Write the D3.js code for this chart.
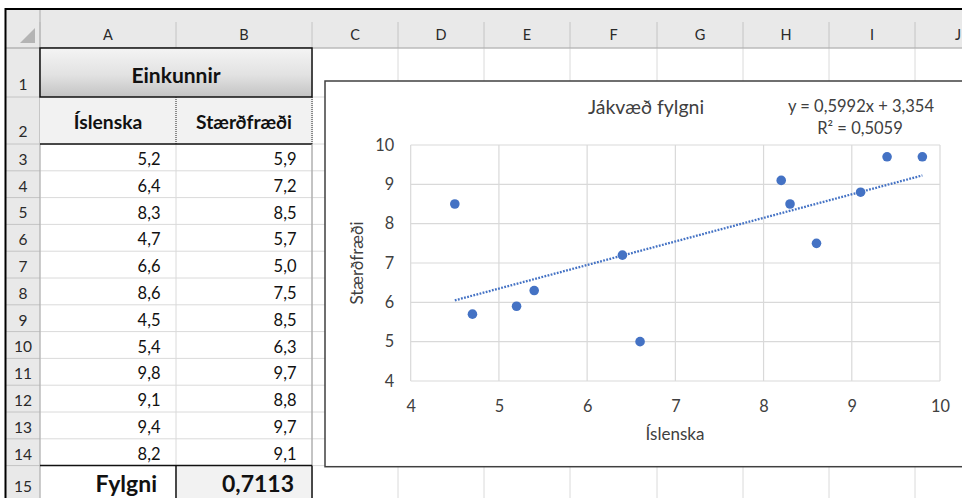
<!DOCTYPE html>
<html><head><meta charset="utf-8">
<script src="https://cdn.jsdelivr.net/npm/d3@7"></script>
<style>body{margin:0;background:#fff}svg{display:block}text{font-family:Lato,'Open Sans',sans-serif}</style>
</head><body><svg id="c" width="962" height="498"></svg>
<script>
// ---- data ----
const columnLetters = ["A","B","C","D","E","F","G","H","I","J"];
const rowNumbers = [1,2,3,4,5,6,7,8,9,10,11,12,13,14,15];
const tableTitle = "Einkunnir";
const seriesNames = ["Íslenska","Stærðfræði"];
const islenska = [5.2,6.4,8.3,4.7,6.6,8.6,4.5,5.4,9.8,9.1,9.4,8.2];
const staerdfraedi = [5.9,7.2,8.5,5.7,5.0,7.5,8.5,6.3,9.7,8.8,9.7,9.1];
const correlationLabel = "Fylgni";
const correlationValue = 0.7113;
const chartTitle = "Jákvæð fylgni";
const trendSlope = 0.5992, trendIntercept = 3.354, trendR2 = 0.5059;
const xTicks = [4,5,6,7,8,9,10];
const yTicks = [4,5,6,7,8,9,10];
const xTitle = "Íslenska", yTitle = "Stærðfræði";

const comma = (v,d) => v.toFixed(d).replace(".", ",");

// ---- layout ----
const svg = d3.select("#c");
const colEdges = [40,176,312,398,484,570,657,743,829,915,1001];
const rowEdges = [48,97,144];
for (let i = 3; i <= 14; i++) rowEdges.push(144 + (i-2)*26.8);
rowEdges.push(525);

const defs = svg.append("defs");
const g1 = defs.append("linearGradient").attr("id","hdr").attr("x1",0).attr("x2",0).attr("y1",0).attr("y2",1);
g1.append("stop").attr("offset","0%").attr("stop-color","#F4F4F4");
g1.append("stop").attr("offset","55%").attr("stop-color","#E2E2E2");
g1.append("stop").attr("offset","100%").attr("stop-color","#C3C3C3");

svg.append("rect").attr("width",962).attr("height",498).attr("fill","#fff");

// headers
svg.append("rect").attr("x",6).attr("y",10).attr("width",956).attr("height",38).attr("fill","#E9E9E9");
svg.append("rect").attr("x",6).attr("y",48).attr("width",34).attr("height",450).attr("fill","#E9E9E9");
svg.append("path").attr("d","M35,28L35,43L20,43Z").attr("fill","#B4B4B4");

// cell gridlines
svg.selectAll(".vg").data(colEdges).join("line")
  .attr("x1",d=>d).attr("x2",d=>d).attr("y1",48).attr("y2",498).attr("stroke","#DADADA");
svg.selectAll(".hg").data(rowEdges).join("line")
  .attr("x1",40).attr("x2",962).attr("y1",d=>d).attr("y2",d=>d).attr("stroke","#DADADA");

// header separators
svg.selectAll(".hs").data(colEdges).join("line")
  .attr("x1",d=>d).attr("x2",d=>d).attr("y1",22).attr("y2",48).attr("stroke","#C4C4C4");
svg.selectAll(".rs").data(rowEdges).join("line")
  .attr("x1",6).attr("x2",40).attr("y1",d=>d).attr("y2",d=>d).attr("stroke","#C4C4C4");
svg.append("line").attr("x1",6).attr("x2",962).attr("y1",48).attr("y2",48).attr("stroke","#ABABAB");
svg.append("line").attr("x1",40).attr("x2",40).attr("y1",10).attr("y2",498).attr("stroke","#ABABAB");

// column letters
svg.selectAll(".cl").data(columnLetters).join("text")
  .attr("x",(d,i)=>(colEdges[i]+colEdges[i+1])/2).attr("y",40)
  .attr("text-anchor","middle").attr("font-size",14.5).attr("fill","#2a2a2a").text(d=>d);
// row numbers
svg.selectAll(".rn").data(rowNumbers).join("text")
  .attr("x",23).attr("y",(d,i)=> i<2 ? rowEdges[i+1]-7 : (i===14 ? 492 : rowEdges[i+1]-6))
  .attr("text-anchor","middle").attr("font-size",15.5).attr("fill","#2a2a2a").text(d=>d);

// formatted table cells
svg.append("rect").attr("x",40).attr("y",97).attr("width",272).attr("height",47).attr("fill","#F2F2F2");
svg.append("rect").attr("x",40).attr("y",48).attr("width",272).attr("height",49)
  .attr("fill","url(#hdr)").attr("stroke","#111").attr("stroke-width",1.5);
[176,312].forEach(x=>svg.append("line").attr("x1",x).attr("x2",x).attr("y1",97).attr("y2",144)
  .attr("stroke","#222").attr("stroke-dasharray","1,1"));
svg.append("line").attr("x1",40).attr("x2",312).attr("y1",144).attr("y2",144).attr("stroke","#111").attr("stroke-width",1.5);
svg.append("line").attr("x1",312).attr("x2",312).attr("y1",144).attr("y2",rowEdges[14]).attr("stroke","#9A9A9A");
svg.append("rect").attr("x",176).attr("y",rowEdges[14]).attr("width",136).attr("height",40).attr("fill","#F2F2F2");
svg.append("line").attr("x1",40).attr("x2",312).attr("y1",rowEdges[14]).attr("y2",rowEdges[14]).attr("stroke","#111").attr("stroke-width",1.5);
[176,312].forEach(x=>svg.append("line").attr("x1",x).attr("x2",x).attr("y1",rowEdges[14]).attr("y2",498)
  .attr("stroke","#111").attr("stroke-width",1.5));

svg.append("text").attr("x",176).attr("y",82.5).attr("text-anchor","middle")
  .attr("font-size",21).attr("font-weight","bold").attr("fill","#111").text(tableTitle);
svg.selectAll(".sn").data(seriesNames).join("text")
  .attr("x",(d,i)=>(colEdges[i]+colEdges[i+1])/2).attr("y",128.5).attr("text-anchor","middle")
  .attr("font-size",19.3).attr("font-weight","bold").attr("fill","#111").text(d=>d);
[islenska, staerdfraedi].forEach((arr,c)=>{
  svg.selectAll(".v"+c).data(arr).join("text")
    .attr("x",colEdges[c+1]-15.5).attr("y",(d,i)=>rowEdges[i+3]-5.8).attr("text-anchor","end")
    .attr("font-size",16.5).attr("fill","#111").text(d=>comma(d,1));
});
svg.append("text").attr("x",157).attr("y",491.7).attr("text-anchor","end")
  .attr("font-size",23).attr("font-weight","bold").attr("fill","#111").text(correlationLabel);
svg.append("text").attr("x",294).attr("y",491.7).attr("text-anchor","end")
  .attr("font-size",23).attr("font-weight","bold").attr("fill","#111").text(comma(correlationValue,4));

// frame
svg.append("line").attr("x1",5).attr("x2",962).attr("y1",9).attr("y2",9).attr("stroke","#000").attr("stroke-width",2);
svg.append("line").attr("x1",5.5).attr("x2",5.5).attr("y1",8).attr("y2",498).attr("stroke","#000").attr("stroke-width",2);

// ---- chart ----
svg.append("rect").attr("x",325).attr("y",81).attr("width",640).attr("height",385.7)
  .attr("fill","#fff").attr("stroke","#404040").attr("stroke-width",1.5);

const x = d3.scaleLinear().domain([4,10]).range([410.7,940]);
const y = d3.scaleLinear().domain([4,10]).range([381,145]);
const grid = "#D9D9D9";
svg.selectAll(".gx").data(xTicks).join("line")
  .attr("x1",d=>x(d)).attr("x2",d=>x(d)).attr("y1",y(10)).attr("y2",y(4)).attr("stroke",grid).attr("stroke-width",1.2);
svg.selectAll(".gy").data(yTicks).join("line")
  .attr("x1",x(4)).attr("x2",x(10)).attr("y1",d=>y(d)).attr("y2",d=>y(d)).attr("stroke",grid).attr("stroke-width",1.2);

const txt = "#404040";
const ax = svg.append("g").attr("transform",`translate(0,${y(4)})`)
  .call(d3.axisBottom(x).tickValues(xTicks).tickSize(0).tickPadding(19).tickFormat(d3.format("d")));
ax.select(".domain").remove();
ax.selectAll("text").attr("font-size",16.3).attr("fill",txt).attr("font-family","Lato");
const ay = svg.append("g").attr("transform",`translate(${x(4)},0)`)
  .call(d3.axisLeft(y).tickValues(yTicks).tickSize(0).tickPadding(16.5).tickFormat(d3.format("d")));
ay.select(".domain").remove();
ay.selectAll("text").attr("font-size",16.3).attr("fill",txt).attr("font-family","Lato");

// trendline
const xs = d3.extent(islenska);
svg.append("path")
  .datum(xs.map(v=>[v, trendSlope*v + trendIntercept]))
  .attr("d", d3.line().x(d=>x(d[0])).y(d=>y(d[1])))
  .attr("fill","none").attr("stroke","#4472C4").attr("stroke-width",2.3).attr("stroke-dasharray","1.8,1.4");

// points
svg.selectAll(".pt").data(islenska.map((v,i)=>[v,staerdfraedi[i]])).join("circle")
  .attr("cx",d=>x(d[0])).attr("cy",d=>y(d[1])).attr("r",4.8).attr("fill","#4472C4");

// titles
svg.append("text").attr("x",646).attr("y",113.5).attr("text-anchor","middle")
  .attr("font-size",19.5).attr("fill",txt).text(chartTitle);
svg.append("text").attr("x",861).attr("y",111.5).attr("text-anchor","middle")
  .attr("font-size",16.5).attr("fill",txt)
  .text(`y = ${comma(trendSlope,4)}x + ${comma(trendIntercept,3)}`);
svg.append("text").attr("x",860).attr("y",133.5).attr("text-anchor","middle")
  .attr("font-size",16.5).attr("fill",txt).text(`R² = ${comma(trendR2,4)}`);
svg.append("text").attr("x",675).attr("y",440).attr("text-anchor","middle")
  .attr("font-size",17).attr("fill",txt).text(xTitle);
svg.append("text").attr("transform","translate(363,263) rotate(-90)").attr("text-anchor","middle")
  .attr("font-size",17).attr("fill",txt).text(yTitle);
</script></body></html>
